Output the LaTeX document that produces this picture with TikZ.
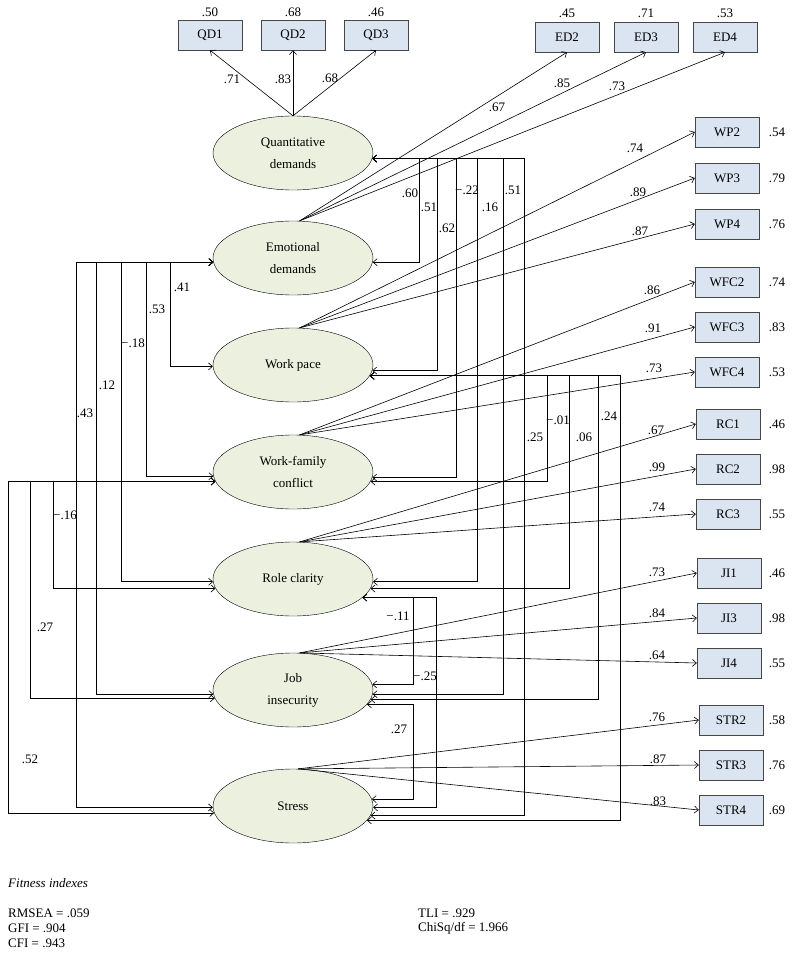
\documentclass[tikz,border=0pt]{standalone}
\usepackage{fontspec}
\setmainfont{Liberation Serif}
\usetikzlibrary{shapes,arrows.meta,positioning}
\definecolor{latfill}{RGB}{235,241,222}
\definecolor{itemfill}{RGB}{219,229,241}
\definecolor{itemline}{RGB}{70,70,70}
\tikzstyle{latent} = [ellipse, draw, fill=latfill, minimum width=160pt,
    minimum height=74pt, inner sep=0pt, align=center]
\tikzstyle{item} = [rectangle, draw=itemline, fill=itemfill,
    minimum width=64pt, minimum height=30pt, inner sep=0pt]
\tikzstyle{num} = [inner sep=1pt]
\tikzstyle{fitline} = [anchor=west, inner sep=0pt]
\tikzstyle{line} = [draw, line width=0.6pt, -{Straight Barb[length=4pt,width=7pt]}]
\tikzstyle{cov} = [draw, line width=0.6pt,
    {Straight Barb[length=4pt,width=7pt]}-{Straight Barb[length=4pt,width=7pt]}]

\begin{document}
\begin{tikzpicture}[x=1pt, y=-1pt, node distance=45pt, font=\fontsize{13}{22}\selectfont]
		\useasboundingbox (0,0) rectangle (793,958);

		% latent factors
		\node [latent] (QD) at (293,153) {Quantitative\\demands};
		\node [latent, node distance=105pt, below of=QD] (ED) {Emotional\\demands};
		\node [latent, node distance=107pt, below of=ED] (WP) {Work pace};
		\node [latent, node distance=107pt, below of=WP] (WFC) {Work-family\\conflict};
		\node [latent, node distance=107pt, below of=WFC] (RC) {Role clarity};
		\node [latent, node distance=111pt, below of=RC] (JI) {Job\\insecurity};
		\node [latent, node distance=116pt, below of=JI] (ST) {Stress};

		% indicators on top
		\node [item, node distance=118pt, above of=QD] (QD2) {QD2};
		\node [item, node distance=83pt, left of=QD2] (QD1) {QD1};
		\node [item, node distance=83pt, right of=QD2] (QD3) {QD3};
		\node [item] (ED2) at (567,37) {ED2};
		\node [item, node distance=79pt, right of=ED2] (ED3) {ED3};
		\node [item, node distance=79pt, right of=ED3] (ED4) {ED4};
		\node [num, node distance=23pt, above of=QD1] (vQD1) {.50};
		\node [num, node distance=23pt, above of=QD2] (vQD2) {.68};
		\node [num, node distance=23pt, above of=QD3] (vQD3) {.46};
		\node [num, node distance=24pt, above of=ED2] (vED2) {.45};
		\node [num, node distance=24pt, above of=ED3] (vED3) {.71};
		\node [num, node distance=24pt, above of=ED4] (vED4) {.53};

		% indicators on the right
		\node [item] (WP2) at (727,132) {WP2};
		\node [item, node distance=46pt, below of=WP2] (WP3) {WP3};
		\node [item, node distance=46pt, below of=WP3] (WP4) {WP4};
		\node [item] (WFC2) at (727,282) {WFC2};
		\node [item, below of=WFC2] (WFC3) {WFC3};
		\node [item, below of=WFC3] (WFC4) {WFC4};
		\node [item] (RC1) at (728,424) {RC1};
		\node [item, below of=RC1] (RC2) {RC2};
		\node [item, below of=RC2] (RC3) {RC3};
		\node [item] (JI1) at (729,573) {JI1};
		\node [item, below of=JI1] (JI3) {JI3};
		\node [item, below of=JI3] (JI4) {JI4};
		\node [item] (STR2) at (731,720) {STR2};
		\node [item, below of=STR2] (STR3) {STR3};
		\node [item, below of=STR3] (STR4) {STR4};
		\node [num, node distance=50pt, right of=WP2] (vWP2) {.54};
		\node [num, node distance=50pt, right of=WP3] (vWP3) {.79};
		\node [num, node distance=50pt, right of=WP4] (vWP4) {.76};
		\node [num, node distance=50pt, right of=WFC2] (vWFC2) {.74};
		\node [num, node distance=50pt, right of=WFC3] (vWFC3) {.83};
		\node [num, node distance=50pt, right of=WFC4] (vWFC4) {.53};
		\node [num, node distance=49pt, right of=RC1] (vRC1) {.46};
		\node [num, node distance=49pt, right of=RC2] (vRC2) {.98};
		\node [num, node distance=49pt, right of=RC3] (vRC3) {.55};
		\node [num, node distance=48pt, right of=JI1] (vJI1) {.46};
		\node [num, node distance=48pt, right of=JI3] (vJI3) {.98};
		\node [num, node distance=48pt, right of=JI4] (vJI4) {.55};
		\node [num, node distance=46pt, right of=STR2] (vSTR2) {.58};
		\node [num, node distance=46pt, right of=STR3] (vSTR3) {.76};
		\node [num, node distance=46pt, right of=STR4] (vSTR4) {.69};

		% loadings
		\path [line] (QD.north) -- (QD1.south);
		\path [line] (QD.north) -- (QD2.south);
		\path [line] (QD.north) -- (QD3.south);
		\path [line] (ED.80) -- (ED2.south);
		\path [line] (ED.80) -- (ED3.south);
		\path [line] (ED.80) -- (ED4.south);
		\path [line] (WP.80) -- (WP2.west);
		\path [line] (WP.80) -- (WP3.west);
		\path [line] (WP.80) -- (WP4.west);
		\path [line] (WFC.80) -- (WFC2.west);
		\path [line] (WFC.80) -- (WFC3.west);
		\path [line] (WFC.80) -- (WFC4.west);
		\path [line] (RC.80) -- (RC1.west);
		\path [line] (RC.80) -- (RC2.west);
		\path [line] (RC.80) -- (RC3.west);
		\path [line] (JI.80) -- (JI1.west);
		\path [line] (JI.80) -- (JI3.west);
		\path [line] (JI.80) -- (JI4.west);
		\path [line] (ST.82) -- (STR2.west);
		\path [line] (ST.82) -- (STR3.west);
		\path [line] (ST.82) -- (STR4.west);
		\node [num] (lQD1) at (232,79) {.71};
		\node [num] (lQD2) at (283,79) {.83};
		\node [num] (lQD3) at (330,78) {.68};
		\node [num] (lED2) at (497,107) {.67};
		\node [num] (lED3) at (562,83) {.85};
		\node [num] (lED4) at (617,86) {.73};
		\node [num] (lWP2) at (635,148) {.74};
		\node [num] (lWP3) at (638,192) {.89};
		\node [num] (lWP4) at (640,231) {.87};
		\node [num] (lWFC2) at (652,290) {.86};
		\node [num] (lWFC3) at (653,328) {.91};
		\node [num] (lWFC4) at (654,368) {.73};
		\node [num] (lRC1) at (656,430) {.67};
		\node [num] (lRC2) at (657,467) {.99};
		\node [num] (lRC3) at (657,507) {.74};
		\node [num] (lJI1) at (657,572) {.73};
		\node [num] (lJI3) at (657,613) {.84};
		\node [num] (lJI4) at (657,655) {.64};
		\node [num] (lSTR2) at (657,717) {.76};
		\node [num] (lSTR3) at (658,759) {.87};
		\node [num] (lSTR4) at (658,801) {.83};

		% correlations between the factors
		\path [cov] (QD.-4) -| (419,0 |- ED.-3) -- (ED.-3);
		\path [cov] (QD.-4) -| (437,0 |- WP.-4) -- (WP.-4);
		\path [cov] (QD.-4) -| (456,0 |- WFC.-4) -- (WFC.-4);
		\path [cov] (QD.-4) -| (477,0 |- RC.-2) -- (RC.-2);
		\path [cov] (QD.-4) -| (503,0 |- JI.-3) -- (JI.-3);
		\path [cov] (QD.-4) -| (524,0 |- ST.-7) -- (ST.-7);
		\path [cov] (ED.183) -| (170,0 |- WP.181) -- (WP.181);
		\path [cov] (ED.183) -| (146,0 |- WFC.183) -- (WFC.183);
		\path [cov] (ED.183) -| (121,0 |- RC.182) -- (RC.182);
		\path [cov] (ED.183) -| (96,0 |- JI.183) -- (JI.183);
		\path [cov] (ED.183) -| (76,0 |- ST.181) -- (ST.181);
		\path [cov] (WFC.187) -| (53,0 |- RC.187) -- (RC.187);
		\path [cov] (WFC.187) -| (30,0 |- JI.186) -- (JI.186);
		\path [cov] (WFC.187) -| (8,0 |- ST.185) -- (ST.185);
		\path [cov] (WP.-8) -| (547,0 |- WFC.-7) -- (WFC.-7);
		\path [cov] (WP.-8) -| (569,0 |- RC.-7) -- (RC.-7);
		\path [cov] (WP.-8) -| (598,0 |- JI.-7) -- (JI.-7);
		\path [cov] (WP.-8) -| (620,0 |- ST.-11) -- (ST.-11);
		\path [cov] (RC.-15) -| (413,0 |- JI.4) -- (JI.4);
		\path [cov] (RC.-15) -| (436,0 |- ST.-1) -- (ST.-1);
		\path [cov] (JI.-11) -| (413,0 |- ST.5) -- (ST.5);
		\node [num] (rQDED) at (410,193) {.60};
		\node [num] (rQDWP) at (429,207) {.51};
		\node [num] (rQDWFC) at (447,228) {.62};
		\node [num] (rQDRC) at (467,190) {−.22};
		\node [num] (rQDJI) at (490,207) {.16};
		\node [num] (rQDST) at (513,190) {.51};
		\node [num] (rEDWP) at (182,287) {.41};
		\node [num] (rEDWFC) at (157,309) {.53};
		\node [num] (rEDRC) at (133,343) {−.18};
		\node [num] (rEDJI) at (107,385) {.12};
		\node [num] (rEDST) at (85,413) {.43};
		\node [num] (rWFCRC) at (65,515) {−.16};
		\node [num] (rWFCJI) at (45,627) {.27};
		\node [num] (rWFCST) at (30,759) {.52};
		\node [num] (rWPWFC) at (535,437) {.25};
		\node [num] (rWPRC) at (558,420) {−.01};
		\node [num] (rWPJI) at (584,437) {.06};
		\node [num] (rWPST) at (609,416) {.24};
		\node [num] (rRCJI) at (398,616) {−.11};
		\node [num] (rRCST) at (425,676) {−.25};
		\node [num] (rJIST) at (399,729) {.27};

		% fit
		\node [fitline] (fit0) at (8,883) {\textit{Fitness indexes}};
		\node [fitline] (fit1) at (8,913) {RMSEA = .059};
		\node [fitline] (fit2) at (8,928) {GFI = .904};
		\node [fitline] (fit3) at (8,943) {CFI = .943};
		\node [fitline] (fit4) at (418,913) {TLI = .929};
		\node [fitline] (fit5) at (418,928) {ChiSq/df = 1.966};
	\end{tikzpicture}
\end{document}
